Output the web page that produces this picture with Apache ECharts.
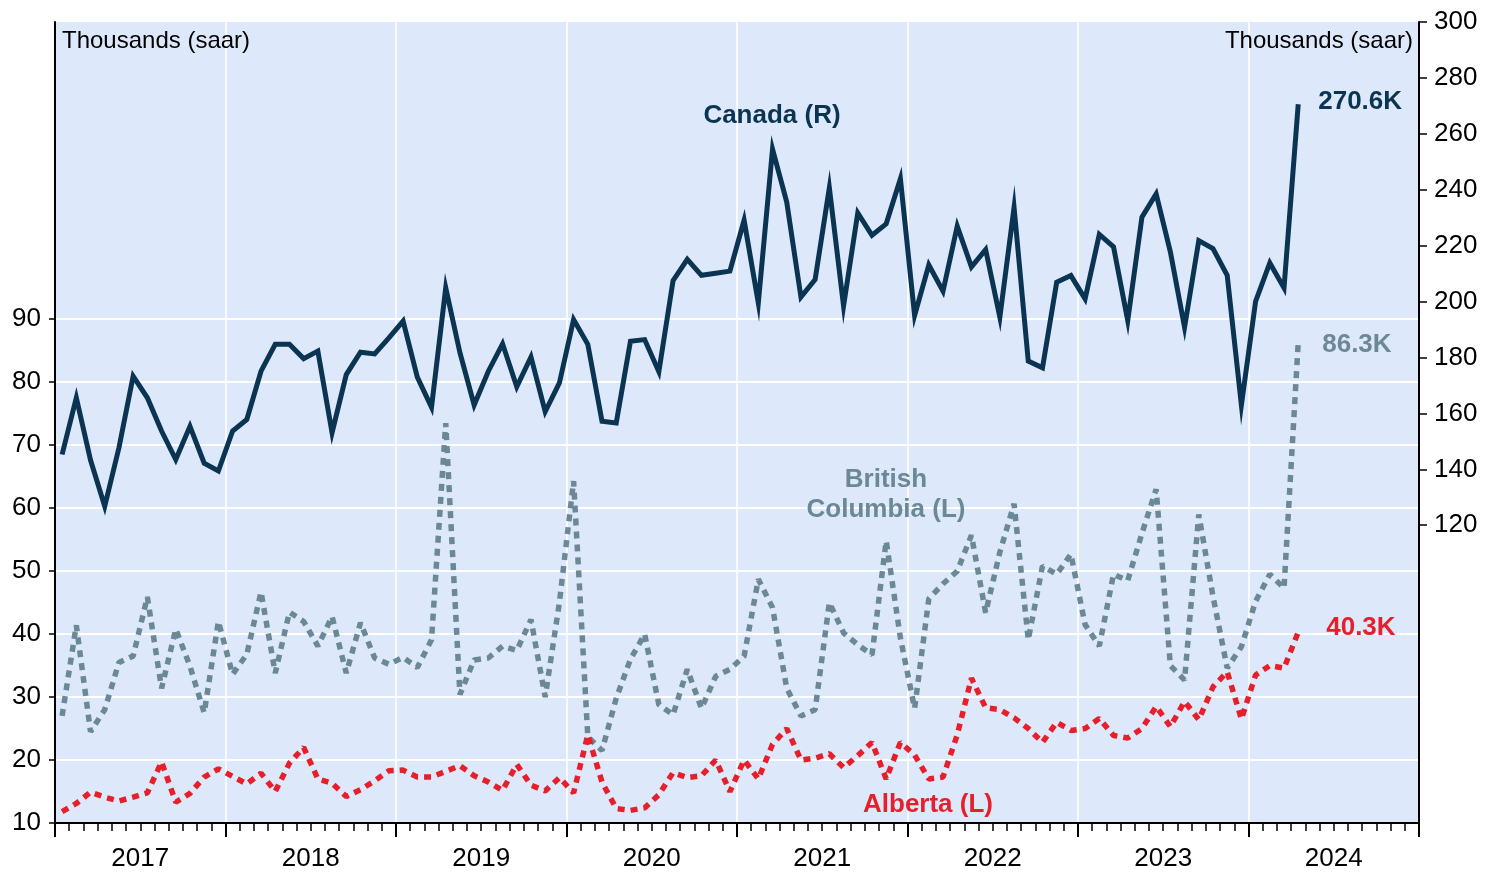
<!DOCTYPE html>
<html>
<head>
<meta charset="utf-8">
<title>Housing starts</title>
<script src="https://cdn.jsdelivr.net/npm/echarts@6/dist/echarts.min.js"></script>
<style>
  html, body { margin: 0; padding: 0; background: #fff; }
  #chart { width: 1496px; height: 872px; }
</style>
</head>
<body>
<div id="chart"></div>
<script>
const years = ['2017', '2018', '2019', '2020', '2021', '2022', '2023', '2024']
const months = []
years.forEach(y => {
  for (let m = 1; m <= 12; m++) months.push(y + '-' + String(m).padStart(2, '0'))
})

// Canada, thousands saar (right axis), Jan 2017 - Apr 2024
const canada = [
  145.3, 165.6, 143.3, 126.8, 147.7, 173.3, 165.6, 153.7, 143.5, 155.4, 142.2, 139.4,
  153.7, 157.8, 175.1, 184.7, 184.7, 179.6, 182.3, 153.1, 173.9, 181.9, 181.3, 187.0,
  193.0, 173.0, 162.2, 204.9, 181.7, 163.0, 175.1, 184.9, 169.5, 180.2, 160.6, 170.9,
  193.6, 184.7, 157.2, 156.6, 185.8, 186.4, 174.9, 207.5, 215.1, 209.4, 210.1, 210.9,
  229.1, 199.5, 254.5, 235.6, 201.6, 207.9, 240.7, 198.4, 231.7, 223.7, 227.8, 243.9,
  195.0, 213.1, 203.7, 227.0, 212.4, 218.6, 194.4, 233.7, 178.7, 176.3, 206.9, 209.3,
  201.0, 224.0, 219.6, 193.2, 230.2, 238.5, 217.8, 190.8, 221.8, 219.0, 209.4, 163.0,
  200.1, 213.8, 204.9, 270.6
]

// British Columbia (left axis)
const britishColumbia = [
  27.0, 41.4, 24.5, 28.0, 35.5, 36.5, 45.9, 31.4, 40.8, 34.9, 27.5, 42.0,
  33.6, 36.8, 46.7, 33.8, 43.5, 42.0, 38.1, 42.8, 33.8, 41.8, 36.2, 35.2,
  36.3, 34.7, 39.1, 73.5, 30.4, 35.9, 36.2, 38.1, 37.4, 42.3, 30.0, 45.0,
  64.3, 23.7, 21.5, 29.8, 36.0, 40.0, 28.8, 27.2, 34.4, 28.2, 33.3, 34.4,
  36.5, 48.7, 44.2, 31.4, 27.0, 28.0, 45.0, 40.2, 38.3, 36.7, 54.8, 39.4,
  28.2, 45.6, 48.0, 50.0, 55.7, 43.4, 53.0, 60.7, 39.1, 50.8, 49.5, 52.7,
  41.5, 38.1, 49.5, 48.5, 56.0, 63.0, 35.0, 32.7, 59.0, 46.0, 34.6, 38.0,
  45.2, 49.5, 47.3, 86.3
]

// Alberta (left axis)
const alberta = [
  11.8, 13.1, 14.9, 14.1, 13.5, 14.1, 14.8, 19.7, 13.3, 14.7, 17.3, 18.6,
  17.4, 16.2, 17.9, 15.0, 19.5, 22.0, 17.0, 16.3, 14.2, 15.3, 16.7, 18.3,
  18.4, 17.3, 17.3, 18.2, 19.1, 17.5, 16.5, 15.2, 19.3, 16.0, 15.1, 17.2,
  14.8, 24.0, 16.5, 12.3, 12.0, 12.4, 14.5, 18.0, 17.2, 17.5, 20.0, 15.0,
  20.0, 17.0, 22.5, 25.0, 20.0, 20.3, 21.0, 18.8, 20.7, 22.8, 17.0, 22.8,
  20.8, 17.0, 17.3, 24.0, 33.0, 28.3, 28.0, 26.7, 25.0, 22.8, 26.0, 24.7,
  25.0, 26.6, 23.9, 23.5, 25.0, 28.5, 25.3, 29.3, 26.4, 31.6, 34.0, 26.5,
  33.5, 35.0, 34.6, 40.3
]

const leftTicks = [10, 20, 30, 40, 50, 60, 70, 80, 90]
const rightTicks = [120, 140, 160, 180, 200, 220, 240, 260, 280, 300]

const FONT = '"Liberation Sans", Arial, Helvetica, sans-serif'
const NAVY = '#0b3452'
const SLATE = '#6b8896'
const RED = '#e6202b'

const chart = echarts.init(document.getElementById('chart'))

function endLabel(color, distance, offset) {
  return {
    show: true,
    distance: distance,
    offset: offset,
    color: color,
    fontFamily: FONT,
    fontSize: 26,
    fontWeight: 'bold',
    formatter: p => p.value.toFixed(1) + 'K'
  }
}

function note(text, x, y, color, bold, align, size) {
  return {
    type: 'text',
    x: x,
    y: y,
    z: 100,
    style: {
      text: text,
      fill: color,
      font: (bold ? 'bold ' : '') + size + 'px ' + FONT,
      align: align,
      textAlign: align,
      verticalAlign: 'middle',
      textVerticalAlign: 'middle',
      lineHeight: 30
    }
  }
}

const option = {
  animation: false,
  backgroundColor: '#fff',
  grid: {
    left: 55,
    right: 77,
    top: 22,
    bottom: 47,
    show: true,
    backgroundColor: '#dde9fb',
    borderWidth: 0
  },
  xAxis: [
    {
      type: 'category',
      data: months,
      boundaryGap: true,
      axisLine: { show: true, lineStyle: { color: '#000', width: 2 } },
      axisTick: { show: true, interval: 0, length: 8, lineStyle: { color: '#000', width: 1.5 } },
      axisLabel: { show: false },
      splitLine: { show: false }
    },
    {
      type: 'category',
      data: years,
      position: 'bottom',
      boundaryGap: true,
      axisLine: { show: false },
      axisTick: { show: true, interval: 0, length: 14, lineStyle: { color: '#000', width: 2 } },
      axisLabel: { interval: 0, margin: 23, color: '#000', fontFamily: FONT, fontSize: 26 },
      splitLine: { show: true, interval: 0, lineStyle: { color: '#fff', width: 1.5 } }
    }
  ],
  yAxis: [
    {
      type: 'value',
      position: 'left',
      min: 10,
      max: 137.2,
      axisLine: { show: true, lineStyle: { color: '#000', width: 2 } },
      axisTick: { show: true, customValues: leftTicks, length: 6, lineStyle: { color: '#000', width: 1.5 } },
      axisLabel: { customValues: leftTicks, margin: 14, color: '#000', fontFamily: FONT, fontSize: 26 },
      splitLine: { show: true, lineStyle: { color: '#fff', width: 2 } }
    },
    {
      type: 'value',
      position: 'right',
      min: 13.5,
      max: 300,
      axisLine: { show: true, lineStyle: { color: '#000', width: 2 } },
      axisTick: { show: true, customValues: rightTicks, length: 8, lineStyle: { color: '#000', width: 1.5 } },
      axisLabel: { customValues: rightTicks, margin: 15, color: '#000', fontFamily: FONT, fontSize: 26 },
      splitLine: { show: false }
    }
  ],
  series: [
    {
      name: 'Canada (R)',
      type: 'line',
      yAxisIndex: 1,
      data: canada,
      symbol: 'none',
      lineStyle: { color: NAVY, width: 5, join: 'miter' },
      endLabel: endLabel(NAVY, 20, [0, -2])
    },
    {
      name: 'British Columbia (L)',
      type: 'line',
      yAxisIndex: 0,
      data: britishColumbia,
      symbol: 'none',
      lineStyle: { color: SLATE, width: 5.5, type: [7, 6] },
      endLabel: endLabel(SLATE, 24, [0, 2])
    },
    {
      name: 'Alberta (L)',
      type: 'line',
      yAxisIndex: 0,
      data: alberta,
      symbol: 'none',
      lineStyle: { color: RED, width: 5.5, type: [7, 6] },
      endLabel: endLabel(RED, 28, [0, -4])
    }
  ],
  graphic: [
    note('Thousands (saar)', 62, 41, '#000', false, 'left', 24),
    note('Thousands (saar)', 1413, 41, '#000', false, 'right', 24),
    note('Canada (R)', 772, 116, NAVY, true, 'center', 26),
    note('British\nColumbia (L)', 886, 495, SLATE, true, 'center', 26),
    note('Alberta (L)', 928, 805, RED, true, 'center', 26)
  ]
}

chart.setOption(option)
</script>
</body>
</html>
